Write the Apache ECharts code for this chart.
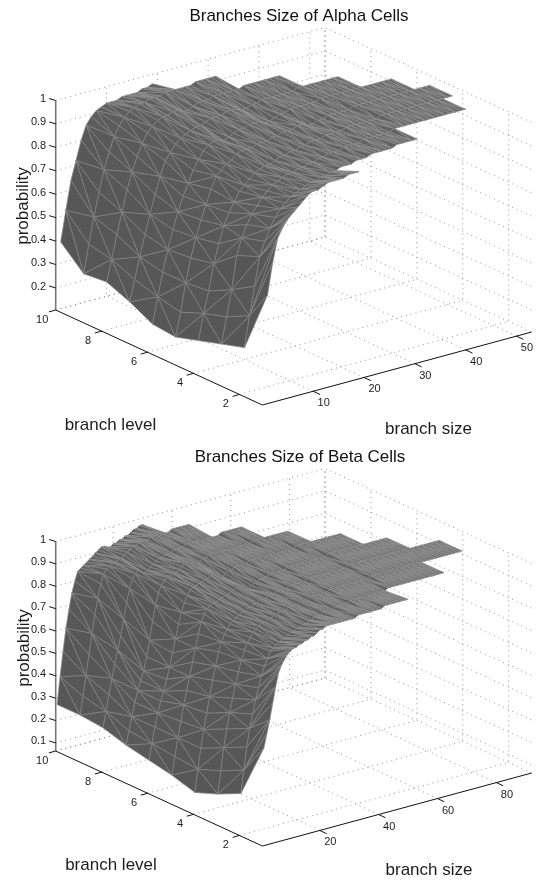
<!DOCTYPE html>
<html><head><meta charset="utf-8">
<style>html,body{margin:0;padding:0;background:#fff}#c{width:545px;height:882px}</style>
<script src="https://cdn.jsdelivr.net/npm/echarts@6/dist/echarts.min.js"></script>
</head><body><div id="c"></div>
<script>
// Cumulative probability (percent) per branch level 1..10, one entry per branch size 1,2,3...
const alphaL1=[57,70,80,84,87,89,91,93,95,96,96,97,98,98,98,98,99,99,99];
const alphaL2=[30,43,55,67,73,78,82,85,87,89,90,91,92,93,93,94,94,95,95,96,96,96,97,97,97,98,98,98,98,98,99,99,99,99,99];
const alphaL3=[27,38,49,63,70,75,79,82,85,87,89,90,91,92,92,93,93,94,94,95,95,96,96,96,97,97,97,97,98,98,98,98,98,98,99,99,99,99,99,99,99,99,99,99,99,99,99,99,99];
const alphaL4=[24,35,44,55,63,70,75,79,83,85,87,89,90,91,91,92,93,93,94,94,95,95,96,96,96,97,97,97,97,98,98,98,98,98,98,98,99,99,99,99,99,99,99,99,99,99,99,99,99,99,99];
const alphaL5=[21,31,43,53,61,68,74,80,85,87,89,90,92,93,93,93,94,94,94,95,95,96,96,96,97,97,96,96,97,97,98,98,98,98,98,99,99,99,99,99,99,99,99,99,99,99,99,99,99,99,99];
const alphaL6=[22,33,43,52,60,67,73,78,83,87,90,92,93,93,92,93,94,95,95,96,96,96,95,95,96,97,97,98,98,98,98,98,98,99,99,99,99,99,99,99,99,99,99,99,99,99,99,99];
const alphaL7=[27,36,45,54,62,70,77,83,86,89,91,92,93,94,94,95,96,96,96,97,97,97,96,96,97,97,98,98,98,98,98,98,98,99,99,99,99,99,99,99,99,99];
const alphaL8=[31,40,50,59,68,75,81,86,90,92,94,95,95,96,96,95,95,96,97,97,97,98,98,98,98,98,98,99,99,99,99,99,99,99,99];
const alphaL9=[30,42,53,63,72,79,85,89,92,94,95,96,96,97,97,97,98,98,98,98,98,98,99,99,99,99,99];
const alphaL10=[39,52,64,72,80,86,89,91,92,93,93,93,94,94,94,94,95,95,96];
const alphaRows=[alphaL1,alphaL2,alphaL3,alphaL4,alphaL5,alphaL6,alphaL7,alphaL8,alphaL9,alphaL10];

const betaL1=[50,56,62,69,76,82,85,87,89,90,91,91,92,92,93,93,94,94,95,96,96,97,97,97,97,97,97,97,97,97,97,97,98,98,98,98,98,98,98,98,98,99,99,99,99,99,99,99,99,99];
const betaL2=[25,35,45,53,59,65,70,75,79,82,85,86,87,88,89,89,90,91,91,92,92,93,93,94,94,95,95,95,96,96,96,96,97,97,97,97,97,98,98,98,98,98,98,98,98,98,98,98,98,98,99,99,99,99,99,99,99,99,99,99,99,99,99,99,99,99,99,99,99,99];
const betaL3=[20,30,40,48,55,61,67,72,77,81,84,86,88,89,90,91,91,92,92,93,93,94,94,94,95,95,95,95,96,96,96,97,97,97,97,97,97,97,98,98,98,98,98,98,98,98,98,98,98,98,98,98,99,99,99,99,99,99,99,99,99,99,99,99,99,99,99,99,99,99,99,99,99,99,99,99,99,99,99,99,99,99,99,99];
const betaL4=[16,26,35,43,50,57,64,70,76,80,83,85,87,88,89,90,91,91,92,92,93,93,94,94,94,95,95,95,96,96,96,96,97,97,97,97,97,97,98,98,98,98,98,98,98,98,98,98,98,98,98,98,99,99,99,99,99,99,99,99,99,99,99,99,99,99,99,99,99,99,99,99,99,99,99,99,99,99,99,99,99,99,99,99];
const betaL5=[19,27,35,42,49,55,61,67,73,79,84,87,89,90,91,91,92,92,93,93,94,94,95,95,94,93,93,94,95,95,96,96,96,97,97,97,97,97,97,98,98,98,98,98,98,98,98,98,98,98,98,98,98,99,99,99,99,99,99,99,99,99,99,99,99,99,99,99,99,99,99,99,99,99];
const betaL6=[21,28,35,41,46,50,55,60,66,72,78,83,87,90,92,93,93,94,94,95,95,96,96,95,94,94,95,96,96,97,97,97,97,97,98,98,98,98,98,98,98,98,98,98,98,98,98,98,98,98,99,99,99,99,99,99,99,99,99,99,99,99,99,99,99,99];
const betaL7=[23,29,35,41,46,50,54,60,67,75,82,87,90,92,93,93,94,94,95,96,97,97,96,96,96,96,97,97,98,98,98,98,98,98,98,98,98,98,98,98,98,98,98,99,99,99,99,99,99,99,99,99,99,99,99,99];
const betaL8=[26,33,40,47,53,59,65,72,79,85,89,91,92,91,90,91,92,93,94,95,95,96,96,96,97,97,97,97,98,98,98,98,98,98,98,98,98,98,98,98,99,99,99,99,99,99,99,99];
const betaL9=[27,35,44,53,62,70,77,83,87,89,90,91,91,92,92,93,94,95,96,96,97,97,97,97,98,98,98,98,98,98,98,99,99,99,99,99,99,99];
const betaL10=[27,39,50,60,68,75,80,84,85,86,87,88,89,90,91,92,92,91,91,92,92,93,93,94,94,95,96,96,97,97];
const betaRows=[betaL1,betaL2,betaL3,betaL4,betaL5,betaL6,betaL7,betaL8,betaL9,betaL10];

const alphaSizeTicks=[10,20,30,40,50];
const betaSizeTicks=[20,40,60,80];
const levelTicks=[2,4,6,8,10];
const alphaProbTicks=[0.2,0.3,0.4,0.5,0.6,0.7,0.8,0.9,1];
const betaProbTicks=[0.1,0.2,0.3,0.4,0.5,0.6,0.7,0.8,0.9,1];

const panels=[
 {rows:alphaRows,sizeTicks:alphaSizeTicks,probTicks:alphaProbTicks,smin:0,smax:53,zmin:0.106,zs:0.3,
  title:'Branches Size of Alpha Cells',tx:294,
  levelName:[110.5,425],sizeName:[428.5,429],probName:[23,206]},
 {rows:betaRows,sizeTicks:betaSizeTicks,probTicks:betaProbTicks,smin:0.5,smax:92,zmin:0.064,zs:0.2,
  title:'Branches Size of Beta Cells',tx:295,
  levelName:[111,424],sizeName:[429,429],probName:[24,207]}
];
// view of the box in the panel's plane
const V={x0:55.7,y0:310,ax:206.7,ay:95,bx:269.3,by:-73,h:209.5,lvMax:10,lvMin:1};
function proj(p,s,l,z){
  const a=(V.lvMax-l)/(V.lvMax-V.lvMin), b=(s-p.smin)/(p.smax-p.smin), c=(z-p.zmin)/(1-p.zmin);
  return [V.x0+a*V.ax+b*V.bx, V.y0+a*V.ay+b*V.by-c*V.h];
}
function shade(p,A,B,C){
  const f=q=>[(q[0]-p.smin)/(p.smax-p.smin),(V.lvMax-q[1])/9,(q[2]-p.zmin)/(1-p.zmin)*p.zs];
  const a=f(A),b=f(B),c=f(C);
  const u=[b[0]-a[0],b[1]-a[1],b[2]-a[2]],v=[c[0]-a[0],c[1]-a[1],c[2]-a[2]];
  let n=[u[1]*v[2]-u[2]*v[1],u[2]*v[0]-u[0]*v[2],u[0]*v[1]-u[1]*v[0]];
  if(n[2]<0)n=n.map(x=>-x);
  const m=Math.hypot(n[0],n[1],n[2])||1;
  const l=[0.35,-0.15,0.92];
  const d=Math.max(0,(n[0]*l[0]+n[1]*l[1]+n[2]*l[2])/m);
  const g=Math.round(86+10*d+44*Math.pow(d,16));
  return 'rgb('+g+','+g+','+g+')';
}
function triangles(p){
  const out=[];
  for(let r=p.rows.length-2;r>=0;r--){
    const lo=p.rows[r],hi=p.rows[r+1],m=Math.min(lo.length,hi.length),Ll=r+1,Lh=r+2;
    for(let i=m-2;i>=0;i--){
      const s=i+1;
      const a=[s,Ll,lo[i]/100],b=[s+1,Ll,lo[i+1]/100],c=[s+1,Lh,hi[i+1]/100],d=[s,Lh,hi[i]/100];
      const pair=((i+r)%2===0)?[[a,b,c],[a,c,d]]:[[a,b,d],[b,c,d]];
      out.push(pair[1],pair[0]);
    }
  }
  return out;
}
function surfaceSeries(p,idx){
  const tris=triangles(p);
  return {type:'custom',xAxisIndex:idx,yAxisIndex:idx,silent:true,clip:false,animation:false,z:3,
    data:tris.map((t,i)=>[i]),encode:{x:0},
    renderItem(params,api){
      const t=tris[params.dataIndex];
      const pts=t.map(q=>api.coord(proj(p,q[0],q[1],q[2])));
      const col=shade(p,t[0],t[1],t[2]);
      return {type:'group',children:[
        {type:'polygon',shape:{points:pts},style:{fill:col,stroke:col,lineWidth:0.6}},
        {type:'polygon',shape:{points:pts},style:{fill:null,stroke:'rgba(195,195,195,0.52)',lineWidth:0.55}}
      ]};
    }};
}
function frameSeries(p,idx){
  return {type:'custom',xAxisIndex:idx,yAxisIndex:idx,silent:true,clip:false,animation:false,z:2,
    data:[[0]],encode:{x:0},
    renderItem(params,api){
      const P=(s,l,z)=>api.coord(proj(p,s,l,z));
      const ch=[];
      const dot=(pts)=>ch.push({type:'polyline',shape:{points:pts},style:{fill:null,stroke:'#777',lineWidth:0.8,lineDash:[1,4]}});
      const solid=(pts,c,w)=>ch.push({type:'polyline',shape:{points:pts},style:{fill:null,stroke:c,lineWidth:w}});
      const txt=(x,y,text,align,font,rot)=>{
        const e={type:'text',x:x,y:y,style:{x:0,y:0,text:text,font:font,fill:'#1c1c1c',align:align,verticalAlign:'middle'}};
        if(rot)e.rotation=rot;ch.push(e);
      };
      const S0=p.smin,S1=p.smax,Z0=p.zmin;
      p.probTicks.forEach(z=>dot([P(S0,10,z),P(S1,10,z),P(S1,1,z)]));
      dot([P(S0,10,Z0),P(S1,10,Z0),P(S1,1,Z0)]);
      dot([P(S1,10,Z0),P(S1,10,1)]);
      levelTicks.forEach(l=>{dot([P(S0,l,Z0),P(S1,l,Z0),P(S1,l,1)]);});
      p.sizeTicks.forEach(s=>{dot([P(s,1,Z0),P(s,10,Z0),P(s,10,1)]);});
      solid([P(S0,10,Z0),P(S0,1,Z0),P(S1,1,Z0)],'#111',1);
      solid([P(S0,10,Z0),P(S0,10,1)],'#777',1.6);
      const lab='11px "Liberation Sans",Arial,sans-serif', nm='17px "Liberation Sans",Arial,sans-serif';
      levelTicks.forEach(l=>{
        const q=P(S0,l,Z0);
        solid([q,[q[0]-6.8,q[1]+1.9]],'#111',1);
        txt(q[0]-13.5,q[1]+10,String(l),'center',lab);
      });
      p.sizeTicks.forEach(s=>{
        const q=P(s,1,Z0);
        solid([q,[q[0]+6.8,q[1]+3.2]],'#111',1);
        txt(q[0]+10.5,q[1]+12,String(s),'center',lab);
      });
      p.probTicks.forEach(z=>{
        const q=P(S0,10,z);
        solid([q,[q[0]-6.5,q[1]-2]],'#111',1);
        txt(q[0]-9.5,q[1]-1.5,String(z),'right',lab);
      });
      const C=a=>api.coord(a);
      let c=C(p.levelName);txt(c[0],c[1],'branch level','center',nm);
      c=C(p.sizeName);txt(c[0],c[1],'branch size','center',nm);
      c=C(p.probName);txt(c[0],c[1],'probability','center',nm,Math.PI/2);
      return {type:'group',children:ch};
    }};
}
const chart=echarts.init(document.getElementById('c'),null,{renderer:'canvas'});
chart.setOption({
  animation:false,backgroundColor:'#fff',
  title:panels.map((p,i)=>({text:p.title,left:p.tx,top:3+i*441,textAlign:'center',
    textStyle:{fontFamily:'"Liberation Sans",Arial,sans-serif',fontWeight:'normal',fontSize:17,color:'#111'}})),
  grid:[{left:0,right:0,top:0,height:441},{left:0,right:0,top:441,height:441}],
  xAxis:[0,1].map(i=>({type:'value',gridIndex:i,min:0,max:545,show:false})),
  yAxis:[0,1].map(i=>({type:'value',gridIndex:i,min:0,max:441,inverse:true,show:false})),
  series:[frameSeries(panels[0],0),surfaceSeries(panels[0],0),frameSeries(panels[1],1),surfaceSeries(panels[1],1)]
});
</script></body></html>
